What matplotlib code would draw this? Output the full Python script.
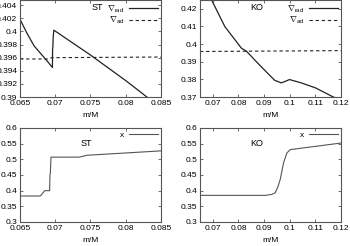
import matplotlib
matplotlib.use("Agg")
import matplotlib.pyplot as plt
from matplotlib.ticker import FuncFormatter

plt.rcParams['font.family'] = ['Liberation Sans', 'DejaVu Sans']
plt.rcParams['font.size'] = 6
plt.rcParams['mathtext.fontset'] = 'custom'
plt.rcParams['mathtext.rm'] = 'Liberation Sans'

# ---- data: ST, gradients ----
st_rad_m = [0.065, 0.066, 0.067, 0.0682, 0.0690, 0.0696, 0.06962, 0.06966, 0.0697, 0.0698, 0.075, 0.080, 0.0830, 0.0835]
st_rad_v = [0.40185, 0.3997, 0.3978, 0.3963, 0.3953, 0.3945, 0.3973, 0.3975, 0.3990, 0.4002, 0.3964, 0.3925, 0.3900, 0.3896]
st_ad_m = [0.065, 0.0690, 0.0695, 0.085]
st_ad_v = [0.3958, 0.3958, 0.3960, 0.3961]

# ---- data: KO, gradients ----
ko_rad_m = [0.068, 0.0695, 0.0747, 0.0812, 0.0831, 0.0876, 0.0915, 0.0941, 0.0967, 0.0985, 0.0999, 0.1045, 0.110, 0.117, 0.118]
ko_rad_v = [0.431, 0.4251, 0.4099, 0.3976, 0.3960, 0.3891, 0.3833, 0.3795, 0.3780, 0.3790, 0.3799, 0.3780, 0.3752, 0.3700, 0.3695]
ko_ad_m = [0.065, 0.12]
ko_ad_v = [0.3958, 0.3963]

# ---- data: ST, x ----
st_x_m = [0.065, 0.0679, 0.0685, 0.0692, 0.06925, 0.0693, 0.0694, 0.0734, 0.0745, 0.085]
st_x_v = [0.383, 0.383, 0.400, 0.400, 0.450, 0.455, 0.507, 0.507, 0.513, 0.527]

# ---- data: KO, x ----
ko_x_m = [0.065, 0.0904, 0.0930, 0.0943, 0.0953, 0.0963, 0.0976, 0.0989, 0.1002, 0.12]
ko_x_v = [0.385, 0.385, 0.388, 0.393, 0.410, 0.436, 0.489, 0.5205, 0.531, 0.552]

fig = plt.figure(figsize=(3.5, 2.46), dpi=100)
W, H = 350.0, 246.0

def mk(x0, x1, ytop, ybot):
    return fig.add_axes([x0 / W, 1 - ybot / H, (x1 - x0) / W, (ybot - ytop) / H])

ax1 = mk(20, 161, 0, 97)
ax2 = mk(200, 341, 0, 97)
ax3 = mk(20, 161, 128, 222)
ax4 = mk(200, 341, 128, 222)

fmt = FuncFormatter(lambda v, p: '%g' % round(v, 6))
frame_col = '#555555'

for ax in (ax1, ax2, ax3, ax4):
    ax.tick_params(direction='in', length=2.5, width=0.6, top=True, right=True,
                   labelsize=6, pad=2, color=frame_col)
    for s in ax.spines.values():
        s.set_color(frame_col)
        s.set_linewidth(0.8)
    ax.xaxis.set_major_formatter(fmt)
    ax.yaxis.set_major_formatter(fmt)
    ax.set_xlabel('m/M', fontsize=6, labelpad=4)

lab_rad = r'$\nabla_{\rm rad}$'
lab_ad = r'$\nabla_{\rm ad}$'

ax1.plot(st_rad_m, st_rad_v, color='#222222', lw=0.9, label=lab_rad)
ax1.plot(st_ad_m, st_ad_v, color='#222222', lw=0.8, ls=(0, (3, 2.5)), label=lab_ad)
ax1.set_xlim(0.065, 0.085)
ax1.set_ylim(0.39, 0.4048)
ax1.set_xticks([0.065, 0.07, 0.075, 0.08, 0.085])
ax1.set_yticks([0.39, 0.392, 0.394, 0.396, 0.398, 0.4, 0.402, 0.404])
ax1.text(0.55, 0.92, 'ST', transform=ax1.transAxes, ha='center', va='center', fontsize=6.5)

ax2.plot(ko_rad_m, ko_rad_v, color='#222222', lw=0.9, label=lab_rad)
ax2.plot(ko_ad_m, ko_ad_v, color='#222222', lw=0.8, ls=(0, (3, 2.5)), label=lab_ad)
ax2.set_xlim(0.065, 0.12)
ax2.set_ylim(0.37, 0.425)
ax2.set_xticks([0.07, 0.08, 0.09, 0.1, 0.11, 0.12])
ax2.set_yticks([0.37, 0.38, 0.39, 0.4, 0.41, 0.42])
ax2.text(0.40, 0.92, 'KO', transform=ax2.transAxes, ha='center', va='center', fontsize=6.5)

ax3.plot(st_x_m, st_x_v, color='#555555', lw=0.8, label='x')
ax3.set_xlim(0.065, 0.085)
ax3.set_ylim(0.3, 0.6)
ax3.set_xticks([0.065, 0.07, 0.075, 0.08, 0.085])
ax3.set_yticks([0.3, 0.35, 0.4, 0.45, 0.5, 0.55, 0.6])
ax3.text(0.47, 0.83, 'ST', transform=ax3.transAxes, ha='center', va='center', fontsize=6.5)

ax4.plot(ko_x_m, ko_x_v, color='#555555', lw=0.8, label='x')
ax4.set_xlim(0.065, 0.12)
ax4.set_ylim(0.3, 0.6)
ax4.set_xticks([0.07, 0.08, 0.09, 0.1, 0.11, 0.12])
ax4.set_yticks([0.3, 0.35, 0.4, 0.45, 0.5, 0.55, 0.6])
ax4.text(0.40, 0.83, 'KO', transform=ax4.transAxes, ha='center', va='center', fontsize=6.5)

for ax in (ax1, ax2, ax3, ax4):
    ax.legend(loc='upper right', frameon=False, markerfirst=False, fontsize=6,
              handlelength=3.4, handletextpad=0.6, labelspacing=0.0,
              borderaxespad=0.2, borderpad=0.2)

fig.savefig('out.png', dpi=100)
